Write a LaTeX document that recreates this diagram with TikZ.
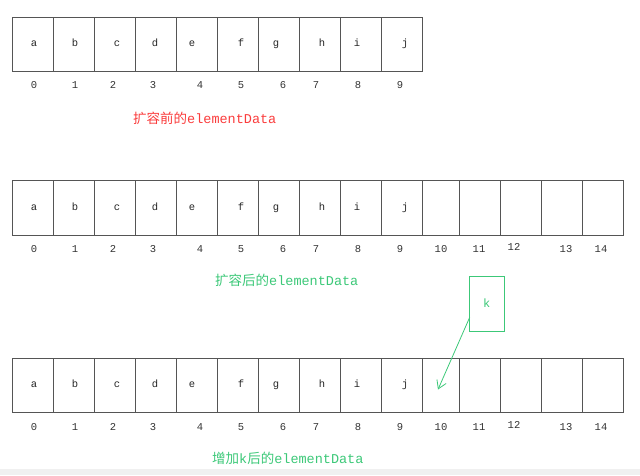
\documentclass[tikz,border=0pt]{standalone}
\usepackage{fontspec}
\setmainfont{Liberation Mono}
\newfontfamily\cjk{Noto Sans CJK SC}
\usetikzlibrary{arrows.meta}
\definecolor{lbl red}{RGB}{250,60,60}
\definecolor{lbl green}{RGB}{60,200,120}
\definecolor{cellline}{RGB}{85,85,85}
\tikzset{
  cell/.style={draw=cellline, line width=0.9pt, inner sep=0pt, anchor=north west},
  letter/.style={font=\fontsize{10.5}{12}\selectfont, inner sep=0pt, text=black!85},
  idx/.style={font=\fontsize{10.5}{12}\selectfont, inner sep=0pt, text=black!80},
  caption/.style={font=\fontsize{13.5}{15}\selectfont, inner sep=0pt, anchor=west},
}
\begin{document}
\begin{tikzpicture}[x=1pt,y=-1pt]
\useasboundingbox (0,0) rectangle (640,475);
\fill[black!6] (0,469) rectangle (640,475);
% row tops and heights
\foreach \r/\top/\h in {1/16.7/54.3, 2/180.3/54.7, 3/357.7/54.6}{
  \foreach \i/\xa/\xb in {0/12/53,1/53/94,2/94/135,3/135/176,4/176/217,5/217/258,6/258/299,7/299/340,8/340/381,9/381/422}{
    \node[cell, minimum width={(\xb-\xa)*1pt}, minimum height={\h*1pt}] (r\r c\i) at (\xa,\top) {};
  }
}
\foreach \r/\top/\h in {2/180.3/54.7, 3/357.7/54.6}{
  \foreach \i/\xa/\xb in {10/422/459,11/459/500,12/500/541,13/541/582,14/582/623}{
    \node[cell, minimum width={(\xb-\xa)*1pt}, minimum height={\h*1pt}] (r\r c\i) at (\xa,\top) {};
  }
}
% letters
\foreach \r/\y in {1/44, 2/207.7, 3/385}{
  \foreach \x/\l in {34/a,75/b,117/c,155/d,192/e,241/f,276/g,322/h,357/i,405/j}{
    \node[letter] (let\r\l) at (\x,\y) {\strut\l};
  }
}
% indices
\foreach \r/\y in {1/85}{
  \foreach \x/\n in {34/0,75/1,113/2,153/3,200/4,241/5,283/6,316/7,358/8,400/9}{
    \node[idx] (idx\r n\n) at (\x,\y) {\n};
  }
}
\foreach \r/\y in {2/249, 3/427}{
  \foreach \x/\n in {34/0,75/1,113/2,153/3,200/4,241/5,283/6,316/7,358/8,400/9,441/10,479/11}{
    \node[idx] (idx\r n\n) at (\x,\y) {\n};
  }
  \node[idx] (idx\r n12) at (514,\y-2) {12};
  \node[idx] (idx\r n13) at (566,\y) {13};
  \node[idx] (idx\r n14) at (601,\y) {14};
}
% captions
\node[caption, text=lbl red] (cap1) at (133,118.5) {{\cjk 扩容前的}elementData};
\node[caption, text=lbl green] (cap2) at (215,280.5) {{\cjk 扩容后的}elementData};
\node[caption, text=lbl green] (cap3) at (212,458.5) {{\cjk 增加}k{\cjk 后的}elementData};
% k box and arrow
\node[draw=lbl green, line width=0.9pt, minimum width=35pt, minimum height=55pt, inner sep=0pt,
      anchor=north west] (kbox) at (469,276) {};
\node[text=lbl green, font=\fontsize{12}{13}\selectfont, inner sep=0pt] (ktext) at (486.7,303) {k};
\coordinate (kstart) at (469.7,317.3);
\coordinate (kend) at (438,389.5);
\draw[lbl green, line width=0.8pt, -{Straight Barb[length=8pt,width=10pt]}] (kstart) -- (kend);
\end{tikzpicture}
\end{document}
